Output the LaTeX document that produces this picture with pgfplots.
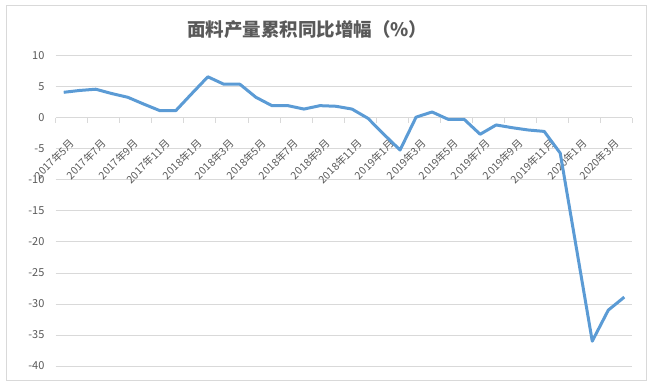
\documentclass[border=0pt]{standalone}
\usepackage{fontspec}
\setmainfont{Noto Sans CJK SC}
\usepackage{pgfplots}
\pgfplotsset{compat=1.18}
\definecolor{gridc}{HTML}{D9D9D9}
\definecolor{txt}{HTML}{595959}
\definecolor{blu}{HTML}{5B9BD5}
\begin{document}
\begin{tikzpicture}
\path[use as bounding box] (-55.7bp,-21bp) rectangle (596.3bp,366bp);
\draw[gridc, line width=0.8bp] (-49.7bp,-14bp) rectangle (590.3bp,361bp);
\node[text=txt, font=\bfseries\fontsize{18.5bp}{20bp}\selectfont] at (251.5bp,336bp) {面料产量累积同比增幅（\%）};
\begin{axis}[
  at={(0,0)}, anchor=south west,
  scale only axis, width=576.6bp, height=310.3bp,
  xmin=-0.5, xmax=35.5, ymin=-40, ymax=10,
  axis x line=middle, axis y line=left,
  hide obscured x ticks=false, hide obscured y ticks=false,
  x axis line style={gridc, line width=0.8bp, -},
  y axis line style={draw=none},
  ytick={-40,-35,...,10},
  ymajorgrids, grid style={gridc, line width=0.8bp},
  ytick style={draw=none},
  xtick={0,2,...,34},
  xticklabels={2017年5月,2017年7月,2017年9月,2017年11月,2018年1月,2018年3月,2018年5月,2018年7月,2018年9月,2018年11月,2019年1月,2019年3月,2019年5月,2019年7月,2019年9月,2019年11月,2020年1月,2020年3月},
  major x tick style={draw=none},
  minor xtick={-0.5,1.5,...,35.5},
  minor x tick style={gridc, line width=0.8bp},
  minor tick length=5bp,
  xtick align=outside,
  xticklabel style={xshift=5bp, yshift=-16bp, rotate=45, anchor=north east, inner sep=0pt, font=\fontsize{10.5bp}{12bp}\selectfont, text=txt},
  yticklabel style={xshift=-9bp, anchor=east, inner sep=0pt, font=\fontsize{11bp}{12bp}\selectfont, text=txt},
  /pgf/number format/assume math mode=true,
]
\addplot[blu, line width=3bp, line join=round] coordinates {
(0,4.1) (1,4.4) (2,4.6) (3,3.9) (4,3.3) (5,2.2) (6,1.15) (7,1.15)
(8,3.9) (9,6.6) (10,5.4) (11,5.4) (12,3.3) (13,1.95) (14,1.95) (15,1.4)
(16,1.95) (17,1.85) (18,1.4) (19,-0.1) (20,-2.7) (21,-5.2) (22,0.1) (23,0.93)
(24,-0.25) (25,-0.25) (26,-2.66) (27,-1.16) (28,-1.6) (29,-1.97) (30,-2.2) (31,-5.7)
(32,-20.85) (33,-36.0) (34,-31.0) (35,-28.9)
};
\end{axis}
\end{tikzpicture}
\end{document}
